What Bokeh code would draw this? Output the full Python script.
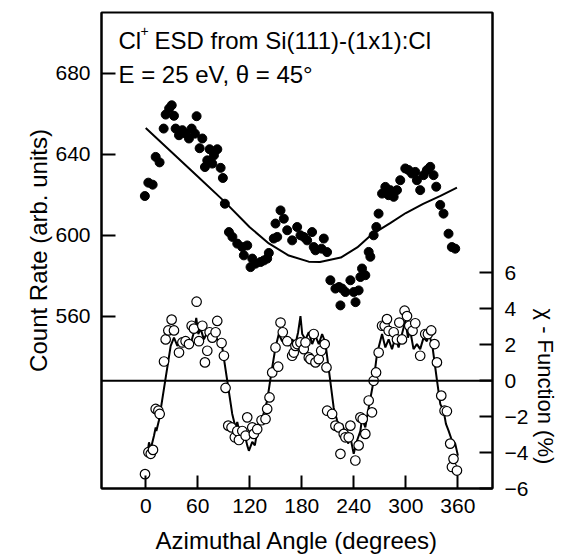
from bokeh.plotting import figure
from bokeh.models import LinearAxis, Range1d, FixedTicker, Span, Label, Title
from bokeh.embed import file_html
from bokeh.resources import INLINE

# ---- data ----
count_angle = [-1, 3, 8, 11.5, 16, 20.7, 23, 27, 30, 32.6, 34.5, 38.4, 42.3, 46, 49.9, 53, 56.8,
               58.7, 62.2, 65.3, 68.3, 71, 73.7, 76.8, 78.7, 82.6, 86.4, 89, 91.3, 96, 100, 105.6,
               111.4, 113.2, 117.1, 120.9, 122.9, 126.7, 132.4, 136.3, 140.1, 142, 147.7, 149.7,
               151.7, 155.5, 159.3, 163.2, 168.9, 174.7, 178.5, 182.3, 186.2, 191.9, 193.8, 195.8,
               202.7, 205.4, 209.2, 213, 218.8, 223, 224.6, 226.5, 230.3, 236.1, 239.9, 242, 245.6,
               247.6, 249.5, 253.3, 257.2, 259.1, 262.9, 266, 268.6, 272.6, 276.4, 280.2, 282.1,
               286, 289.8, 293.6, 299.4, 303.2, 307.1, 310.9, 312.8, 316.6, 320.5, 324.3, 328.2,
               332, 335.1, 339.7, 343.5, 349.3, 353.1, 357]
count_rate = [619.4, 626, 625, 638.7, 636, 652.7, 659.6, 662.6, 664.2, 659, 652.7, 649.4, 651.9,
              650.2, 647.8, 652.7, 650.2, 658.8, 643, 647.8, 633.7, 637, 642.5, 635.4, 639.5,
              642.5, 633.3, 628.3, 615.6, 601.6, 599.2, 595.9, 594.2, 590.1, 595, 584.3, 588.5,
              586, 586.8, 587.6, 588.5, 591.3, 598.4, 605.8, 599.2, 612.3, 608.2, 602.5, 597.5,
              604.1, 600, 599.2, 597.5, 601.6, 594.2, 592.6, 593.4, 598.4, 591.7, 577.8, 573.7,
              574.5, 565.4, 573.7, 572, 577.8, 572, 567, 572.8, 579.4, 583.6, 580.3, 591.8, 589.4,
              600, 604.1, 610.7, 620.6, 623.9, 619.8, 622.3, 619, 622.3, 627.2, 633, 632.2, 630.5,
              631.3, 627.2, 622.3, 629.7, 632.2, 633.8, 629.7, 624, 615, 610.7, 600.8, 594.2, 593.4]

fit_angle = [0, 30, 60, 90, 120, 142, 165, 188, 201, 225, 244, 261, 282, 300, 320, 340, 359]
fit_rate = [653, 641, 629, 617, 604, 596, 590, 587, 586.8, 589, 594, 600.5, 606, 611, 615.5, 619.5, 623.5]

chi_angle = [-0.8, 3.1, 5.8, 8.4, 11.5, 14.6, 16.1, 21.1, 23, 26.1, 29.9, 32.6, 38.4, 42.3, 46,
             49.9, 53, 55.6, 58.7, 61.4, 65.3, 68.3, 71, 73.7, 76.8, 80.6, 82.5, 87.5, 90.2, 92.1,
             95.2, 99, 102.8, 105.6, 107.5, 111.4, 115.2, 117.1, 122.9, 124.7, 128.6, 133.6,
             138.2, 140.1, 142.8, 145.9, 149.7, 152.8, 155.5, 158.1, 163.2, 168.9, 170.8, 172.7,
             174.7, 178.5, 182.3, 184.3, 188.1, 190, 193.8, 195.8, 199.6, 202.4, 206.5, 208.5,
             209.3, 215, 218.8, 222.7, 224.6, 228.4, 230.3, 234.2, 236.1, 241.8, 245.6, 247.6,
             250.3, 253.3, 257.2, 261, 262.9, 265.7, 268.7, 272.6, 275.6, 278.3, 280.2, 286,
             289.8, 292.5, 295.6, 298.6, 301.4, 304, 307.8, 310.9, 316.6, 322.4, 325.5, 329.3,
             333.1, 335.9, 340.9, 344.7, 347.4, 351.2, 353.2, 355, 359]
chi_value = [-5.2, -3.98, -4.07, -3.85, -1.57, -1.67, -1.85, 1.07, 2.3, 2.8, 3.4, 2.8, 1.57, 2.13,
             2.2, 2.04, 3.06, 2.9, 4.4, 2.2, 3.06, 1.02, 1.67, 2.7, 2.4, 2.7, 3.33, 2.1, 1.39, -0.4,
             -2.5, -2.6, -3.15, -2.8, -3.3, -2.8, -3.06, -2.04, -2.6, -2.96, -2.7, -2.2, -2.13,
             -1.57, -0.93, 0.46, 1.85, 0.78, 3.24, 2.7, 2.2, 1.39, 1.57, 1.94, 2.04, 2.13, 1.76,
             2.13, 1.3, 1.2, 2.6, 1.02, 1.2, 1.67, 2.04, 0.74, -1.67, -1.85, -2.5, -2.6, -4.07,
             -2.96, -3.15, -3.15, -2.5, -4.44, -3.6, -2.04, -2.13, -2.96, -1.1, -1.76, 0, 0.46,
             1.57, 3.06, 3.06, 3.43, 2.78, 2.7, 2.3, 3.24, 2.3, 3.9, 3.6, 3.06, 2.78, 3.2, 1.39,
             2.6, 2.6, 2.8, 2.04, 1.02, -0.83, -1.67, -1.7, -3.5, -4.8, -4.35, -5.0]

chi_fit_angle = [1.9, 3.8, 5.8, 9.6, 11.5, 12.3, 15.3, 17.3, 28.8, 32.6, 36.5, 40.3, 44.1, 48,
                 51.8, 55.6, 58.3, 60.7, 63.3, 67.1, 71, 74.9, 78.7, 82.5, 87.5, 99.8, 103.6,
                 105.6, 109.4, 113.2, 117.1, 119, 122.9, 125.9, 130.5, 134.4, 140.1, 145.9, 149.7,
                 153.5, 157.4, 161.2, 165, 168.9, 172.7, 175.8, 178.5, 180.5, 184.3, 188.1, 192,
                 195.8, 199.6, 203.5, 207.3, 216.8, 220.7, 224.6, 226.5, 230.3, 233.4, 236.1,
                 239.9, 243.8, 247.6, 249.5, 253.3, 257.2, 262.9, 266.8, 272.6, 276.4, 280.2,
                 284.1, 287.9, 291.7, 295.6, 299.4, 302.5, 305.1, 308.9, 312.8, 316.6, 320.5,
                 324.3, 327, 330.9, 336, 339.8, 343.6, 346.3, 349.3, 353.2, 357, 360.1]
chi_fit_value = [-4.07, -3.43, -3.8, -3.05, -2.6, -2.8, -2.2, -1.6, 1.94, 2.4, 1.94, 2.2, 2.04,
                 2.2, 2.04, 2.7, 3.5, 2.6, 2.9, 2.3, 2.7, 2.2, 2.7, 2.3, 2.1, -1.85, -2.6, -2.3,
                 -3.15, -2.8, -3.6, -3.9, -3.4, -3.6, -2.3, -2.1, -1.1, 0.74, 1.85, 2.6, 2.2, 2.4,
                 1.94, 2.3, 2.04, 2.7, 3.6, 2.6, 2.3, 2.7, 2.04, 2.5, 2.04, 2.6, 2.1, -1.5, -2.2,
                 -2.8, -2.4, -2.96, -3.5, -3.15, -4.07, -3.33, -2.8, -2.1, -2.6, -1.5, 0, 1.5, 2.6,
                 1.85, 2.3, 1.76, 2.4, 1.85, 2.6, 3.33, 2.4, 2.78, 1.76, 2.04, 1.76, 2.4, 2.2, 2.6,
                 1.85, 0, -1.3, -1.67, -2.4, -2.78, -3.33, -3.5, -4.17]

x_ticks = [0, 60, 120, 180, 240, 300, 360]
count_ticks = [560, 600, 640, 680]
chi_ticks = [-6, -4, -2, 0, 2, 4, 6]

FONT = "Liberation Sans"

p = figure(frame_width=391, frame_height=476, x_range=Range1d(-51, 400), y_range=Range1d(475, 710),
           output_backend="svg", toolbar_location=None,
           min_border_left=101, min_border_right=64, min_border_top=12, min_border_bottom=70)
p.extra_y_ranges = {"chi": Range1d(-6, 20.5)}
p.xgrid.visible = False
p.ygrid.visible = False
p.outline_line_color = "black"
p.outline_line_width = 2
p.background_fill_color = "white"
p.border_fill_color = "white"

def style(ax, tick_len):
    ax.axis_line_color = "black"
    ax.axis_line_width = 2
    ax.major_tick_in = tick_len
    ax.major_tick_out = 0
    ax.major_tick_line_width = 2
    ax.minor_tick_in = 0
    ax.minor_tick_out = 0
    ax.major_label_text_font = FONT
    ax.major_label_text_font_size = "21px"
    ax.major_label_text_color = "black"
    ax.axis_label_text_font = FONT
    ax.axis_label_text_font_size = "24px"
    ax.axis_label_text_font_style = "normal"
    ax.axis_label_text_color = "black"

xa = p.xaxis[0]
style(xa, 13)
xa.ticker = FixedTicker(ticks=x_ticks)
xa.major_label_standoff = 10
xa.axis_label = "Azimuthal Angle (degrees)"
xa.axis_label_standoff = 11

ya = p.yaxis[0]
style(ya, 14)
ya.ticker = FixedTicker(ticks=count_ticks)
ya.major_label_standoff = 11
ya.axis_label = "Count Rate (arb. units)"
ya.axis_label_standoff = 0

ra = LinearAxis(y_range_name="chi", ticker=FixedTicker(ticks=chi_ticks))
style(ra, 13)
ra.major_label_standoff = 12
p.add_layout(ra, "right")

# right-hand axis title, placed along the chi scale
t = Title(text="χ - Function (%)", align="left", offset=296, text_font=FONT,
          text_font_size="22px", text_font_style="normal", text_color="black", standoff=2)
p.add_layout(t, "right")

# zero line of the chi function
p.add_layout(Span(location=0, dimension="width", y_range_name="chi", line_color="black", line_width=2))

# count rate
p.line(fit_angle, fit_rate, line_color="black", line_width=2)
p.scatter(count_angle, count_rate, size=9, marker="circle", fill_color="black", line_color="black")

# chi function
p.line(chi_fit_angle, chi_fit_value, y_range_name="chi", line_color="black", line_width=2)
p.scatter(chi_angle, chi_value, y_range_name="chi", size=9.5, marker="circle",
          fill_color="white", line_color="black", line_width=1.2)

# annotation text
common = dict(x_units="screen", y_units="screen", text_font=FONT, text_color="black",
              text_baseline="alphabetic")
p.add_layout(Label(x=17, y=448, text="Cl", text_font_size="24px", **common))
p.add_layout(Label(x=39, y=458, text="+", text_font_size="14px", **common))
p.add_layout(Label(x=53, y=448, text="ESD from Si(111)-(1x1):Cl", text_font_size="24px", **common))
p.add_layout(Label(x=17, y=414, text="E = 25 eV, θ = 45°", text_font_size="24px", **common))

open("out.html", "w").write(file_html(p, INLINE))
